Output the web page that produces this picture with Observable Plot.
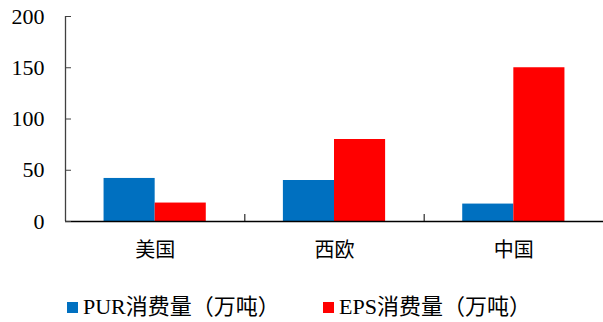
<!DOCTYPE html>
<html>
<head>
<meta charset="utf-8">
<script src="https://cdn.jsdelivr.net/npm/d3@7"></script>
<script src="https://cdn.jsdelivr.net/npm/@observablehq/plot@0.6"></script>
<style>
  html, body { margin: 0; padding: 0; background: #fff; overflow: hidden; }
  #chart svg { display: block; }
  #chart svg text { font-family: "Liberation Serif", "Noto Sans CJK SC", serif !important; font-variant-numeric: normal !important; }
  .legend { display: flex; align-items: center; margin-top: 26px; padding-left: 67px;
            font-family: "Liberation Serif", "Noto Sans CJK SC", serif; font-size: 22px; line-height: 22px; color: #000; }
  .legend .item { display: flex; align-items: center; }
  .legend .item:first-child { width: 256px; }
  .legend .sw { width: 11px; height: 11px; margin-right: 5px; }
</style>
</head>
<body>
<div id="chart"></div>
<script>
// Regions and consumption (10k tonnes)
const categories = ["美国", "西欧", "中国"];
const purValues = [42, 40, 17];
const epsValues = [18, 80, 150];
const seriesNames = ["PUR消费量（万吨）", "EPS消费量（万吨）"];
const seriesColors = ["#0070C0", "#FF0000"];
const yTicks = [0, 50, 100, 150, 200];

// Each region occupies one unit on x; the two bars share its middle part.
const barWidth = 0.285;
const rows = [];
categories.forEach((c, i) => {
  const center = i + 0.5;
  rows.push({cat: c, series: seriesNames[0], value: purValues[i], x1: center - barWidth, x2: center});
  rows.push({cat: c, series: seriesNames[1], value: epsValues[i], x1: center, x2: center + barWidth});
});

const serif = "'Liberation Serif', 'Noto Sans CJK SC', serif";

const chart = Plot.plot({
  width: 603,
  height: 270,
  marginLeft: 65,
  marginRight: 0,
  marginTop: 16,
  marginBottom: 49,
  style: {fontFamily: serif, color: "#000", background: "#fff"},
  x: {domain: [0, categories.length]},
  y: {domain: [0, 200]},
  color: {domain: seriesNames, range: seriesColors},
  marks: [
    Plot.rectY(rows, {x1: "x1", x2: "x2", y: "value", fill: "series"}),
    Plot.ruleX([0], {stroke: "#404040", strokeWidth: 1.3}),
    Plot.ruleY([0], {stroke: "#000", strokeWidth: 1.3}),
    Plot.axisY({ticks: yTicks, tickSize: -6, tickPadding: 27, fontSize: 22, stroke: "#404040", label: null}),
    Plot.axisX({ticks: d3.range(1, categories.length), tickSize: -7, tickFormat: () => "", label: null, stroke: "#000"}),
    Plot.axisX({ticks: categories.map((_, i) => i + 0.5), tickSize: 0, tickPadding: 21,
                tickFormat: (d) => categories[Math.floor(d)], fontSize: 20, label: null})
  ]
});
document.getElementById("chart").appendChild(chart);

// Legend below the plot
const legend = d3.select("body").append("div").attr("class", "legend");
seriesNames.forEach((name, i) => {
  const item = legend.append("div").attr("class", "item");
  item.append("div").attr("class", "sw").style("background", seriesColors[i]);
  item.append("span").text(name);
});
</script>
</body>
</html>
